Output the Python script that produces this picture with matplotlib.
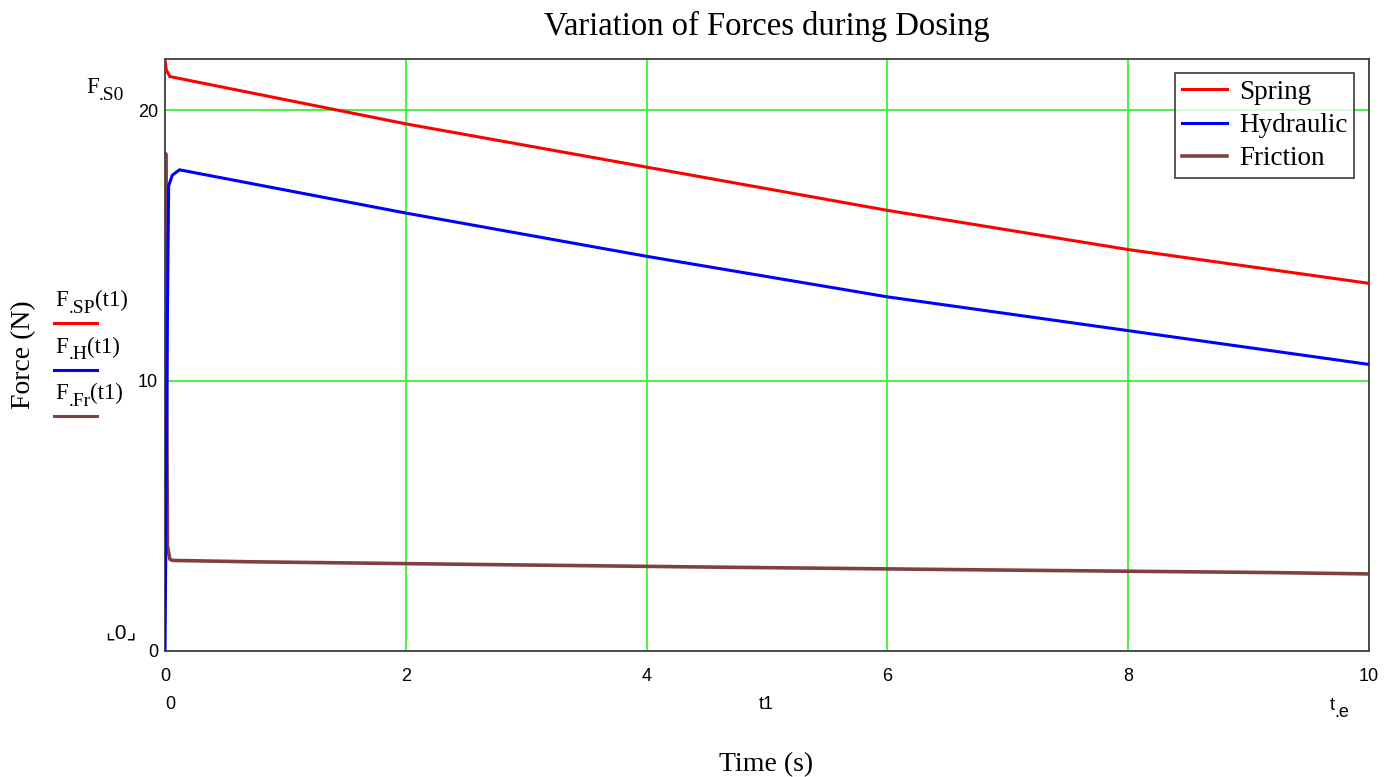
import numpy as np
import matplotlib.pyplot as plt
from matplotlib.lines import Line2D

plt.rcParams['font.family'] = ['Liberation Serif', 'DejaVu Serif']

# values
t_spring = [0, 0.01, 0.04, 2, 4, 6, 8, 10]
f_spring = [21.9, 21.5, 21.25, 19.5, 17.9, 16.3, 14.85, 13.6]

t_hyd = [0, 0.02, 0.03, 0.06, 0.12, 2, 4, 6, 8, 10]
f_hyd = [0, 12.5, 17.2, 17.6, 17.8, 16.2, 14.6, 13.1, 11.85, 10.6]

t_fr = [0, 0.005, 0.02, 0.04, 0.06, 0.7, 2.6, 4.6, 6.8, 9.2, 10]
f_fr = [2.9, 18.4, 3.9, 3.4, 3.35, 3.3, 3.2, 3.1, 3.0, 2.9, 2.85]

y_top = 21.9
x_ticks = [0, 2, 4, 6, 8, 10]
y_ticks = [0, 10, 20]

sans = ['Liberation Sans', 'DejaVu Sans']

fig = plt.figure(figsize=(13.88, 7.77), dpi=100)
ax = fig.add_axes([0.1189, 0.1622, 0.8674, 0.7619])

ax.plot(t_spring, f_spring, color='#ff0000', lw=2.2, label='Spring', zorder=3)
ax.plot(t_hyd, f_hyd, color='#0000ff', lw=2.2, label='Hydraulic', zorder=3)
ax.plot(t_fr, f_fr, color='#804040', lw=2.6, label='Friction', zorder=2.5)

ax.set_xlim(0, 10)
ax.set_ylim(0, y_top)
ax.set_xticks(x_ticks)
ax.set_yticks(y_ticks)
ax.tick_params(axis='x', length=0, labelsize=13, pad=12)
ax.tick_params(axis='y', length=0, labelsize=13, pad=5)
for lab in ax.get_xticklabels() + ax.get_yticklabels():
    lab.set_family(sans)
ax.grid(True, color='#3cf03c', lw=1.3)
for s in ax.spines.values():
    s.set_color('#404040')
    s.set_linewidth(1.3)

leg = ax.legend(loc='upper right', fontsize=19.5, frameon=True, fancybox=False,
                handlelength=1.65, handletextpad=0.45, borderpad=0.25,
                labelspacing=0.3, borderaxespad=0,
                bbox_to_anchor=(0.9875, 0.976))
leg.get_frame().set_edgecolor('#202020')
leg.get_frame().set_linewidth(1.3)

ax.set_title('Variation of Forces during Dosing', fontsize=23.5, pad=17)
fig.text(0.552, 0.007, 'Time (s)', fontsize=20, ha='center')
fig.text(0.008, 0.543, 'Force (N)', fontsize=20, rotation=90, va='center')

# Mathcad-style axis limit labels
fig.text(0.1225, 0.088, '0', fontsize=13, ha='center', family=sans)
fig.text(0.552, 0.088, 't1', fontsize=13, ha='center', family=sans)
te = fig.text(0.958, 0.086, 't', fontsize=13, family=sans)
ax.annotate('.e', xy=(1, 0), xycoords=te, xytext=(0, -5),
            textcoords='offset points', fontsize=13, family=sans,
            va='bottom', annotation_clip=False)
fig.text(0.076, 0.178, '\u231e0\u231f', fontsize=15, family=sans)


def sub_label(x, y, sub, tail, size):
    base = fig.text(x, y, 'F', fontsize=size)
    s = ax.annotate(sub, xy=(1, 0), xycoords=base, xytext=(0, -4),
                    textcoords='offset points', fontsize=size * 0.85,
                    va='bottom', annotation_clip=False)
    if tail:
        ax.annotate(tail, xy=(1, 0), xycoords=s, xytext=(0, 4),
                    textcoords='offset points', fontsize=size,
                    va='bottom', annotation_clip=False)


sub_label(0.062, 0.880, '.S0', '', 16.5)

# trace names beside the y axis
names = ['.SP', '.H', '.Fr']
cols = ['#ff0000', '#0000ff', '#804040']
ys = [0.584, 0.524, 0.464]
for name, c, yy in zip(names, cols, ys):
    sub_label(0.040, yy + 0.022, name, '(t1)', 16.5)
    fig.add_artist(Line2D([0.039, 0.070], [yy, yy], color=c, lw=2.2))

fig.savefig('out.png', dpi=100)
